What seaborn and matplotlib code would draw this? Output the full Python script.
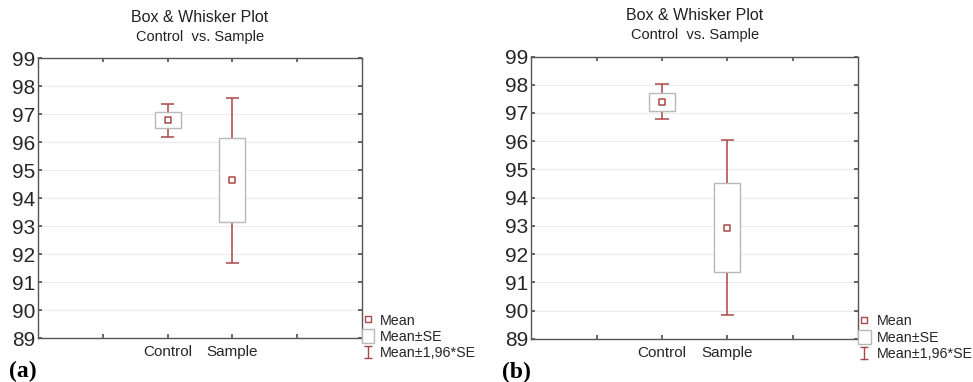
import matplotlib
matplotlib.use("Agg")
import matplotlib.pyplot as plt
import seaborn as sns
import pandas as pd
from matplotlib.lines import Line2D
from matplotlib.patches import Patch
from matplotlib.path import Path

groups = ["Control", "Sample"]

# panel (a)
a_mean = [96.78, 94.63]
a_se_lo = [96.49, 93.13]
a_se_hi = [97.08, 96.14]
a_ci_lo = [96.19, 91.68]
a_ci_hi = [97.37, 97.58]

# panel (b)
b_mean = [97.39, 92.94]
b_se_lo = [97.07, 91.36]
b_se_hi = [97.71, 94.52]
b_ci_lo = [96.77, 89.84]
b_ci_hi = [98.02, 96.03]

panels = [
    ("(a)", a_mean, a_se_lo, a_se_hi, a_ci_lo, a_ci_hi),
    ("(b)", b_mean, b_se_lo, b_se_hi, b_ci_lo, b_ci_hi),
]

RED = "#a84848"
GREY = "#b8b8b8"

sns.set_theme(style="white")
plt.rcParams["font.family"] = ["Liberation Sans", "DejaVu Sans"]

fig = plt.figure(figsize=(9.73, 3.82), dpi=100)
boxes = [
    [0.039, 0.115, 0.333, 0.733],
    [0.546, 0.113, 0.336, 0.739],
]

whisker_marker = Path(
    [(-0.6, -1), (0.6, -1), (0, -1), (0, 1), (-0.6, 1), (0.6, 1)],
    [Path.MOVETO, Path.LINETO, Path.MOVETO, Path.LINETO, Path.MOVETO, Path.LINETO],
)

for rect, (tag, mean, se_lo, se_hi, ci_lo, ci_hi) in zip(boxes, panels):
    ax = fig.add_axes(rect)
    df = pd.DataFrame({"group": groups, "mean": mean, "se_lo": se_lo, "se_hi": se_hi,
                       "ci_lo": ci_lo, "ci_hi": ci_hi})
    x = list(range(len(groups)))

    ax.yaxis.grid(True, color="#ececec", linewidth=0.8)
    ax.set_axisbelow(True)

    # whiskers
    ax.vlines(x, df["ci_lo"], df["ci_hi"], color=RED, linewidth=1.1, zorder=2)
    ax.hlines(df["ci_lo"], [i - 0.1 for i in x], [i + 0.1 for i in x], color=RED, linewidth=1.1, zorder=2)
    ax.hlines(df["ci_hi"], [i - 0.1 for i in x], [i + 0.1 for i in x], color=RED, linewidth=1.1, zorder=2)
    # SE boxes
    ax.bar(x, df["se_hi"] - df["se_lo"], bottom=df["se_lo"], width=0.4,
           color="white", edgecolor=GREY, linewidth=1.0, zorder=3)
    # means
    sns.scatterplot(x=x, y=df["mean"], ax=ax, marker="s", s=22, facecolor="white",
                    edgecolor=RED, linewidth=1.1, zorder=4)

    ax.set_xlim(-2, 3)
    ax.set_ylim(89, 99)
    ax.set_yticks(range(89, 100))
    ax.set_xticks([-1, 0, 1, 2])
    ax.set_xticklabels(["", "Control", "Sample", ""], fontsize=11)
    ax.tick_params(axis="y", labelsize=15, direction="in", length=3, pad=2,
                   left=True, right=True, color="#555555")
    ax.tick_params(axis="x", direction="in", length=3, pad=5, bottom=True, top=True,
                   color="#555555")
    ax.set_ylabel("")
    ax.set_xlabel("")
    for sp in ax.spines.values():
        sp.set_color("#555555")
        sp.set_linewidth(1.0)

    ax.text(0.5, 1.146, "Box & Whisker Plot", transform=ax.transAxes, ha="center",
            va="center", fontsize=11.5, color="#222222")
    ax.text(0.5, 1.075, "Control  vs. Sample", transform=ax.transAxes, ha="center",
            va="center", fontsize=10.5, color="#222222")
    ax.text(-0.09, -0.12, tag, transform=ax.transAxes, ha="left", va="center",
            fontsize=17, fontweight="bold", family=["Liberation Serif"], color="black")

    handles = [
        Line2D([], [], linestyle="none", marker="s", markersize=4.5,
               markerfacecolor="white", markeredgecolor=RED, markeredgewidth=1.0),
        Patch(facecolor="white", edgecolor=GREY, linewidth=1.0),
        Line2D([], [], linestyle="none", marker=whisker_marker, markersize=9,
               markeredgecolor=RED, markeredgewidth=1.0),
    ]
    ax.legend(handles, ["Mean", "Mean±SE", "Mean±1,96*SE"], loc="lower left",
              bbox_to_anchor=(0.99, -0.09), frameon=False, fontsize=10.3,
              handlelength=0.9, handleheight=1.1, handletextpad=0.4,
              labelspacing=0.12, borderaxespad=0.0, borderpad=0.2)

fig.savefig("out.png", dpi=100)
